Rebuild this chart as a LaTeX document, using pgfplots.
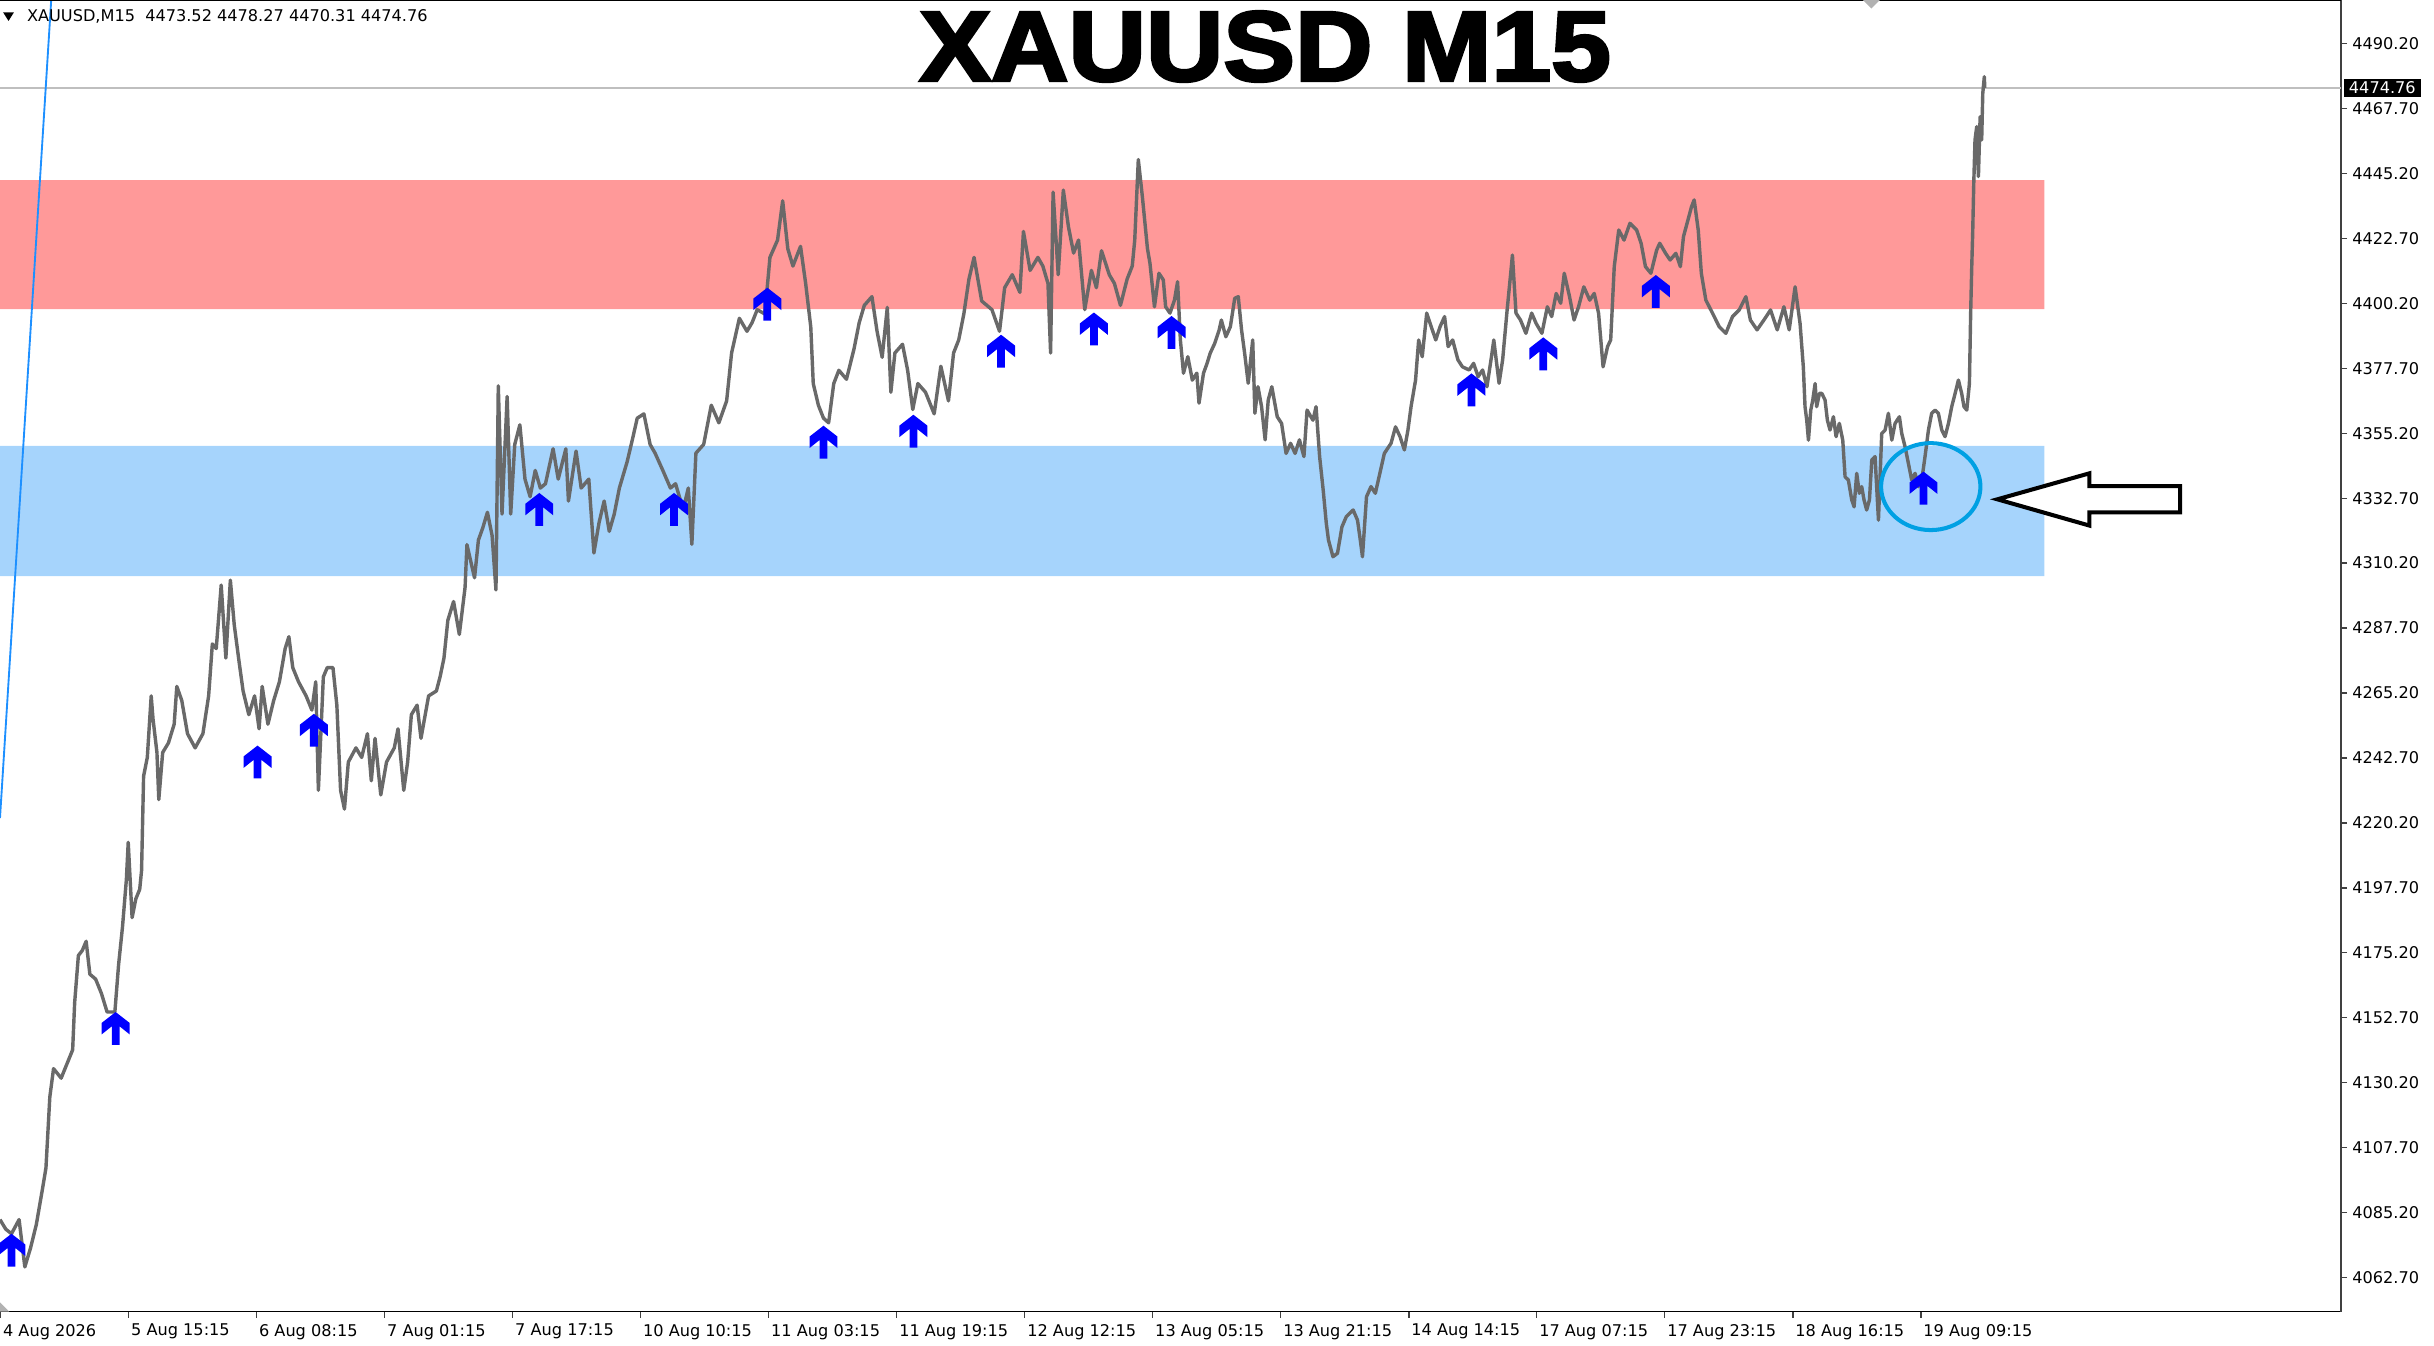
\documentclass[border=0pt]{standalone}
\usepackage{fontspec}
\setmainfont{DejaVu Sans}
\newfontfamily\titlefont{Liberation Sans}[BoldFeatures={FakeBold=3}]
\usepackage{pgfplots}
\usepackage{pgfplotstable}
\pgfplotsset{compat=1.18}

\definecolor{pricegray}{RGB}{105,105,105}
\definecolor{zonered}{RGB}{255,153,153}
\definecolor{zoneblue}{RGB}{166,212,252}
\definecolor{sigblue}{RGB}{0,0,255}
\definecolor{trendblue}{RGB}{30,144,255}
\definecolor{ringblue}{RGB}{0,160,227}

\newcommand\tickfont{\fontsize{5.2}{6}\selectfont}

% buy signal arrow, tip at the data point
\pgfdeclareplotmark{sigup}{%
  \pgfpathmoveto{\pgfqpoint{0pt}{0pt}}%
  \pgfpathlineto{\pgfqpoint{4.5pt}{-3.5pt}}%
  \pgfpathlineto{\pgfqpoint{4.5pt}{-7.2pt}}%
  \pgfpathlineto{\pgfqpoint{1.25pt}{-4.6pt}}%
  \pgfpathlineto{\pgfqpoint{1.25pt}{-10.6pt}}%
  \pgfpathlineto{\pgfqpoint{-1.25pt}{-10.6pt}}%
  \pgfpathlineto{\pgfqpoint{-1.25pt}{-4.6pt}}%
  \pgfpathlineto{\pgfqpoint{-4.5pt}{-7.2pt}}%
  \pgfpathlineto{\pgfqpoint{-4.5pt}{-3.5pt}}%
  \pgfpathclose
  \pgfusepathqfill}

% XAUUSD M15, position along the chart vs price
\pgfplotstableread{
x price
0 4082.8
3.7 4079.5
7.4 4077.9
12.3 4082.8
16.0 4066.4
19.7 4073.0
23.4 4081.1
27.1 4092.6
29.6 4100.7
32.1 4125.3
34.5 4135.1
39.4 4131.8
43.1 4136.7
46.8 4141.6
48.1 4158.0
50.5 4174.3
53.0 4176.0
55.5 4179.2
57.9 4167.8
61.6 4166.1
65.3 4161.2
69.0 4154.7
74.0 4154.7
76.4 4171.1
78.9 4184.1
81.4 4200.5
82.6 4213.5
85.1 4187.4
87.5 4193.9
90.0 4197.2
91.2 4203.7
92.5 4236.4
94.9 4242.9
97.4 4264.2
98.6 4256.1
101.1 4244.6
102.3 4228.3
104.8 4244.6
108.5 4247.9
112.2 4254.4
113.9 4267.5
117.1 4262.6
120.8 4251.1
125.7 4246.2
130.7 4251.1
134.4 4264.2
136.8 4282.2
139.3 4280.6
142.5 4302.6
145.5 4277.3
148.4 4304.3
150.9 4288.8
154.1 4275.7
156.6 4265.9
160.3 4257.7
164.0 4264.2
166.9 4252.8
168.9 4267.5
172.6 4254.4
176.3 4262.6
180.0 4269.1
183.7 4280.6
186.1 4284.7
188.6 4274.0
192.3 4269.1
197.2 4264.2
200.9 4259.3
203.4 4269.1
205.1 4231.5
208.3 4270.8
210.8 4274.0
214.5 4274.0
217.0 4261.0
219.4 4231.5
221.9 4225.0
224.4 4241.3
229.3 4246.2
233.0 4242.9
236.7 4251.1
239.2 4234.8
241.6 4249.5
245.3 4229.9
249.0 4241.3
254.0 4246.2
256.4 4252.8
260.1 4231.5
262.6 4241.3
265.0 4257.7
268.7 4261.0
271.2 4249.5
276.1 4264.2
281.1 4265.9
283.5 4270.8
286.0 4277.3
288.5 4290.4
292.2 4296.9
295.9 4285.5
299.6 4301.8
300.8 4316.6
305.7 4305.1
308.2 4318.2
311.0 4322.4
314.0 4327.8
317.0 4319.8
319.5 4300.9
321.0 4371.6
323.4 4327.2
326.7 4367.9
329.0 4327.2
331.6 4351.3
334.9 4358.1
338.2 4339.3
341.5 4333.2
344.8 4342.3
348.1 4336.2
351.4 4337.7
356.3 4349.8
359.6 4339.3
364.5 4349.8
366.2 4331.7
371.1 4349.0
374.4 4336.2
379.3 4339.3
382.6 4313.7
385.9 4324.2
389.2 4331.7
392.5 4321.2
395.7 4327.2
399.0 4336.2
404.0 4345.3
407.3 4352.8
410.5 4360.4
414.8 4361.9
418.8 4351.3
422.0 4348.3
427.0 4342.3
431.9 4336.2
435.2 4337.7
440.1 4328.7
443.4 4336.2
445.7 4316.7
448.3 4348.3
453.3 4351.3
458.2 4364.9
463.1 4358.8
468.1 4366.4
471.3 4383.0
476.3 4395.0
481.2 4390.5
484.5 4393.5
487.8 4398.0
492.7 4396.5
496.0 4416.1
500.9 4422.1
504.2 4435.7
507.5 4419.1
510.8 4413.1
515.7 4419.9
519.0 4407.1
522.3 4392.0
523.9 4372.4
527.2 4364.9
530.5 4360.4
533.8 4358.8
537.1 4372.4
540.4 4377.0
545.3 4373.9
550.2 4384.5
553.5 4393.5
556.8 4399.5
561.7 4402.5
565.0 4390.5
568.3 4381.5
571.6 4398.8
573.9 4369.4
576.5 4383.0
581.4 4386.0
584.7 4377.0
588.0 4363.4
591.3 4372.4
596.2 4369.4
601.8 4361.9
606.1 4378.4
611.0 4366.4
614.3 4383.0
617.6 4387.5
620.9 4396.5
624.2 4408.6
627.5 4416.1
632.4 4401.0
639.0 4398.0
643.9 4390.5
647.2 4405.6
652.1 4410.1
657.0 4404.0
659.3 4425.1
663.6 4411.6
668.6 4416.1
671.8 4413.1
675.1 4407.1
676.8 4383.0
678.4 4438.7
681.7 4410.1
685.0 4439.4
688.3 4426.7
691.6 4417.6
694.8 4422.1
698.8 4398.0
703.1 4411.6
706.3 4405.6
709.6 4418.4
714.6 4410.1
717.9 4407.1
721.8 4399.5
726.1 4408.6
729.4 4413.1
731.0 4422.1
733.3 4450.0
735.9 4437.2
739.2 4419.1
740.8 4414.1
743.7 4399.0
746.6 4410.6
749.4 4408.3
750.9 4399.0
753.7 4396.8
756.6 4401.3
758.6 4407.7
760.4 4387.5
762.4 4376.0
765.2 4381.7
768.1 4373.6
771.0 4376.0
772.4 4365.6
775.3 4376.0
777.6 4379.4
779.6 4382.9
782.5 4386.3
785.4 4391.0
786.8 4394.4
789.7 4388.6
792.6 4392.1
795.4 4401.9
797.7 4402.5
799.8 4391.0
801.8 4382.9
804.1 4372.5
807.0 4387.5
808.4 4362.1
810.4 4371.3
812.7 4364.4
815.0 4352.9
817.0 4366.7
819.3 4371.3
822.8 4360.9
825.6 4358.6
828.5 4348.2
831.4 4351.7
834.3 4348.2
837.1 4352.9
840.0 4347.1
842.0 4363.2
845.8 4359.7
847.8 4364.4
850.1 4347.1
852.4 4335.5
854.4 4324.0
855.8 4318.2
858.7 4312.4
861.6 4313.6
864.5 4322.8
867.3 4326.3
871.7 4328.6
874.5 4325.1
876.0 4319.4
877.7 4312.4
880.3 4333.2
883.2 4336.7
886.0 4334.4
888.9 4341.3
891.8 4348.2
896.1 4351.7
899.0 4357.4
901.9 4354.0
904.7 4349.4
907.0 4356.3
909.0 4364.4
911.9 4373.6
913.9 4387.5
916.2 4381.7
919.1 4396.8
922.0 4392.1
924.9 4387.5
927.7 4392.1
930.6 4395.6
932.9 4385.2
935.8 4387.5
939.2 4380.6
942.1 4378.2
946.4 4377.1
949.3 4379.4
952.2 4374.8
955.1 4377.1
957.9 4371.3
960.8 4381.7
962.3 4387.5
965.7 4372.5
968.0 4380.6
970.9 4397.9
973.2 4410.6
974.3 4416.9
976.6 4396.8
979.5 4394.4
983.0 4389.8
986.7 4396.8
989.6 4393.2
993.3 4389.8
996.8 4399.0
999.6 4395.6
1002.5 4403.6
1005.4 4400.2
1007.7 4410.6
1011.1 4402.5
1014.0 4394.4
1016.9 4399.0
1020.3 4405.9
1024.1 4401.3
1027.0 4403.6
1029.8 4396.8
1032.7 4378.2
1035.6 4385.2
1037.6 4387.5
1039.9 4412.9
1042.8 4425.6
1046.2 4422.1
1050.0 4427.9
1054.3 4425.6
1057.2 4421.0
1060.0 4412.9
1063.5 4410.6
1067.2 4418.6
1069.2 4421.0
1073.0 4417.5
1075.9 4415.2
1079.6 4417.5
1082.5 4412.9
1084.5 4423.3
1087.4 4429.1
1089.7 4433.7
1091.4 4436.0
1094.0 4425.6
1096.0 4410.6
1098.9 4401.3
1103.2 4396.8
1107.5 4392.1
1111.8 4389.8
1116.1 4395.6
1120.4 4397.9
1124.7 4402.5
1127.6 4394.4
1131.9 4391.0
1136.3 4394.4
1140.6 4397.9
1144.9 4391.0
1149.2 4399.0
1152.6 4391.0
1156.4 4405.9
1159.6 4393.2
1161.7 4378.2
1162.8 4364.4
1163.9 4359.7
1165.0 4352.8
1166.5 4363.2
1167.8 4366.7
1169.3 4372.4
1170.3 4364.4
1172.1 4369.0
1173.6 4369.0
1175.7 4366.7
1177.2 4359.7
1178.9 4356.3
1181.1 4360.9
1182.8 4354.0
1184.9 4358.6
1187.1 4352.8
1188.6 4340.1
1190.7 4339.0
1192.9 4332.1
1194.4 4329.7
1196.1 4341.3
1197.8 4334.4
1199.3 4336.7
1200.8 4332.1
1202.5 4328.6
1204.3 4332.1
1205.8 4345.9
1207.9 4347.1
1210.1 4325.1
1212.2 4355.1
1214.4 4356.3
1216.5 4362.1
1218.7 4352.8
1220.8 4358.6
1223.6 4360.9
1225.1 4355.1
1227.2 4350.6
1229.4 4344.7
1231.5 4339.0
1233.7 4341.3
1235.8 4336.7
1238.6 4341.3
1240.1 4347.1
1242.3 4356.3
1244.4 4362.1
1246.6 4363.2
1248.7 4362.1
1250.9 4356.3
1253.0 4354.0
1255.2 4358.6
1257.3 4364.4
1259.5 4369.0
1261.6 4373.6
1263.7 4369.0
1265.2 4364.4
1267.0 4363.2
1268.7 4372.4
1269.5 4396.8
1270.2 4412.9
1270.8 4424.4
1271.5 4441.8
1272.3 4456.8
1273.4 4461.4
1274.5 4444.1
1275.6 4464.8
1276.6 4456.8
1277.3 4472.9
1278.3 4478.7
1278.6 4474.8
}\pricetable

% buy signals
\pgfplotstableread{
x price
7.4 4077.9
74.5 4154.7
165.9 4247.0
202.2 4258.0
347.4 4334.5
434.2 4334.5
494.3 4405.6
530.5 4357.8
588.4 4361.6
644.9 4389.3
704.7 4397.0
754.7 4395.8
947.9 4375.9
994.2 4388.4
1066.7 4410.0
1239.1 4341.9
}\signaltable

\begin{document}
\begin{tikzpicture}
\path[use as bounding box] (0,-11pt) rectangle (784pt,422.5pt);
\begin{axis}[
  at={(0,0)}, anchor=south west,
  scale only axis, width=754pt, height=422.5pt,
  xmin=0, xmax=1508, ymin=4050.9, ymax=4505.26,
  clip mode=individual,
  axis x line=bottom, axis y line=right,
  axis line style={-},
  x axis line style={draw=black, line width=0.5pt},
  y axis line style={draw=black!75, line width=0.5pt},
  tick align=outside,
  major tick length=2pt,
  tick style={draw=black!75, line width=0.4pt},
  ytick={4062.7,4085.2,4107.7,4130.2,4152.7,4175.2,4197.7,4220.2,4242.7,4265.2,4287.7,4310.2,4332.7,4355.2,4377.7,4400.2,4422.7,4445.2,4467.7,4490.2},
  yticklabel pos=right,
  yticklabel style={font=\tickfont, anchor=west, inner sep=0pt, xshift=1.5pt,
    /pgf/number format/.cd, fixed, fixed zerofill, precision=2, 1000 sep={}, assume math mode=true},
  xtick={0.4,82.9,165.3,247.8,330.3,412.7,495.2,577.7,660.2,742.6,825.1,907.6,990.0,1072.5,1155.0,1237.5},
  xticklabels={4 Aug 2026,5 Aug 15:15,6 Aug 08:15,7 Aug 01:15,7 Aug 17:15,10 Aug 10:15,11 Aug 03:15,11 Aug 19:15,12 Aug 12:15,13 Aug 05:15,13 Aug 21:15,14 Aug 14:15,17 Aug 07:15,17 Aug 23:15,18 Aug 16:15,19 Aug 09:15},
  xticklabel style={font=\tickfont, anchor=north west, inner sep=0pt, xshift=0.6pt, yshift=-1.8pt},
]
% resistance and support zones
\addplot[draw=none, fill=zonered] coordinates {(0,4398.2) (1317,4398.2) (1317,4442.9) (0,4442.9) (0,4398.2)};
\addplot[draw=none, fill=zoneblue] coordinates {(0,4305.7) (1317,4305.7) (1317,4350.8) (0,4350.8) (0,4305.7)};
% last price line
\addplot[black!25, line width=0.4pt] coordinates {(0,4474.76) (1508,4474.76)};
% price
\addplot[pricegray, line width=1.1pt, line join=round] table[x=x, y=price] {\pricetable};
% trend line
\addplot[trendblue, line width=0.6pt] coordinates {(0,4221.9) (33,4505.3)};
% signals
\addplot[only marks, mark=sigup, sigblue] table[x=x, y=price] {\signaltable};

% annotations
\draw[black, line width=0.5pt] (rel axis cs:0,1) -- (rel axis cs:1,1);
\draw[ringblue, line width=1.3pt] (axis cs:1243.8,4336.7) ellipse [x radius=16pt, y radius=14pt];
\draw[black, fill=white, line width=1.3pt, line join=miter]
  (axis cs:1286.7,4332.3) -- (axis cs:1346,4341.3) -- (axis cs:1346,4336.9)
  -- (axis cs:1404.4,4336.9) -- (axis cs:1404.4,4327.8) -- (axis cs:1346,4327.8)
  -- (axis cs:1346,4323.2) -- cycle;
\fill[black] (axis cs:2,4501.0) -- (axis cs:9,4501.0) -- (axis cs:5.5,4498.0) -- cycle;
\fill[black!30] (axis cs:1200,4505.26) -- (axis cs:1211,4505.26) -- (axis cs:1205.5,4502.3) -- cycle;
\fill[black!30] (axis cs:0,4054.1) -- (axis cs:0,4050.9) -- (axis cs:6,4050.9) -- cycle;
\node[font=\tickfont, anchor=base west, inner sep=0pt] at (rel axis cs:0.01127,0.98343)
  {XAUUSD,M15\ \ 4473.52 4478.27 4470.31 4474.76};
\node[font={\titlefont\bfseries\fontsize{32}{34}\selectfont}, anchor=base, inner sep=0pt]
  at (rel axis cs:0.5405,0.93846) {\scalebox{1.08}[1]{XAUUSD M15}};
\node[fill=black, text=white, font=\tickfont, anchor=west, inner xsep=1.6pt, inner ysep=0.9pt, xshift=0.8pt]
  at (axis cs:1508,4474.76) {4474.76};
\end{axis}
\end{tikzpicture}
\end{document}
